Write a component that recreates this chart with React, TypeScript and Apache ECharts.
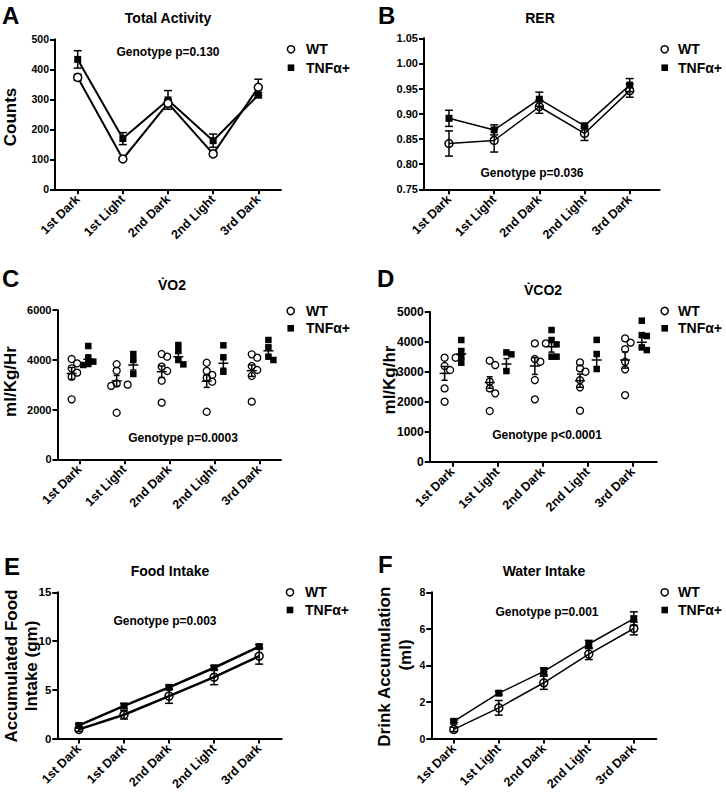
import React, { useEffect, useRef } from "react";
import * as echarts from "echarts";

const FONT = '"Liberation Sans", Arial, Helvetica, sans-serif';

// ---------- categories ----------
const periods = ["1st Dark", "1st Light", "2nd Dark", "2nd Light", "3rd Dark"];
const foodPeriods = ["1st Dark", "1st Dark", "2nd Dark", "2nd Light", "3rd Dark"];

// ---------- A: Total Activity (counts) ----------
const actWT = [373, 101, 287, 118, 340];
const actWTSem = [10, 6, 12, 8, 27];
const actTNF = [433, 169, 298, 162, 314];
const actTNFSem = [29, 20, 31, 22, 8];

// ---------- B: RER ----------
const rerWT = [0.841, 0.847, 0.914, 0.861, 0.946];
const rerWTSem = [0.025, 0.023, 0.013, 0.014, 0.013];
const rerTNF = [0.891, 0.868, 0.929, 0.876, 0.957];
const rerTNFSem = [0.016, 0.01, 0.014, 0.005, 0.013];

// ---------- C: VO2 (individual animals) ----------
const vo2WT = [
  [3856, 3656, 3482, 3321, 4030, 2410],
  [3560, 3820, 3050, 2950, 3000, 1870],
  [4231, 4124, 3549, 3723, 3160, 2277],
  [3550, 3390, 3280, 3120, 3880, 1910],
  [4084, 4218, 3749, 3589, 3348, 2317],
];
const vo2TNF = [
  [4553, 4058, 3924, 3830, 3790],
  [4231, 3990, 3428],
  [4593, 4352, 3990, 3816],
  [4580, 4100, 3520],
  [4794, 4500, 4124, 3990],
];
const vo2WTMean = [3450, 3150, 3520, 3140, 3560];
const vo2WTSem = [240, 220, 230, 250, 230];
const vo2TNFMean = [4020, 3790, 4120, 3860, 4360];
const vo2TNFSem = [180, 200, 180, 200, 180];

// ---------- D: VCO2 (individual animals) ----------
const vco2WT = [
  [3467, 3467, 3189, 3056, 2444, 2000],
  [3222, 3367, 2667, 2444, 2278, 1689],
  [3944, 3944, 3333, 3422, 2722, 2078],
  [3310, 3110, 3000, 2720, 2480, 1700],
  [4110, 3970, 3750, 3330, 3080, 2220],
];
const vco2TNF = [
  [4056, 3689, 3500, 3300],
  [3644, 3578, 3022],
  [4056, 4389, 3911, 3500, 3500],
  [4060, 3590, 3090],
  [4700, 4220, 4190, 3720, 3810],
];
const vco2WTMean = [2944, 2640, 3190, 2700, 3390];
const vco2WTSem = [230, 190, 280, 220, 270];
const vco2TNFMean = [3590, 3256, 3833, 3390, 3980];
const vco2TNFSem = [150, 180, 180, 250, 180];

// ---------- E: Food intake (gm) ----------
const foodWT = [0.94, 2.44, 4.35, 6.29, 8.46];
const foodWTSem = [0.2, 0.44, 0.74, 0.77, 0.83];
const foodTNF = [1.34, 3.34, 5.25, 7.26, 9.43];
const foodTNFSem = [0.15, 0.25, 0.2, 0.2, 0.2];

// ---------- F: Water intake (ml) ----------
const waterWT = [0.5, 1.68, 3.05, 4.62, 6.02];
const waterWTSem = [0.12, 0.4, 0.36, 0.3, 0.35];
const waterTNF = [0.94, 2.48, 3.67, 5.17, 6.56];
const waterTNFSem = [0.08, 0.1, 0.2, 0.2, 0.37];

// ---------- y scales ----------
const yScales = [
  { min: 0, max: 500, interval: 100 },
  { min: 0.75, max: 1.05, interval: 0.05 },
  { min: 0, max: 6000, interval: 2000 },
  { min: 0, max: 5000, interval: 1000 },
  { min: 0, max: 15, interval: 5 },
  { min: 0, max: 8, interval: 2 },
];
const pValues = [
  "Genotype p=0.130",
  "Genotype p=0.036",
  "Genotype p=0.0003",
  "Genotype p<0.0001",
  "Genotype p=0.003",
  "Genotype p=0.001",
];
const titles = ["Total Activity", "RER", "V\u0307O2", "V\u0307CO2", "Food Intake", "Water Intake"];
const letters = ["A", "B", "C", "D", "E", "F"];

// ---------- layout (page pixels) ----------
const layout = [
  { left: 55, top: 39.3, width: 226, height: 150, xMin: -0.503, xMax: 4.503, tick: 10.5 },
  { left: 424, top: 38.3, width: 235.7, height: 151, xMin: -0.553, xMax: 4.664, tick: 11 },
  { left: 57.5, top: 310, width: 223.5, height: 149.3, xMin: -0.484, xMax: 4.48, tick: 11 },
  { left: 429.7, top: 311.7, width: 227, height: 150, xMin: -0.5, xMax: 4.53, tick: 12 },
  { left: 57.3, top: 592.3, width: 224.4, height: 149.4, xMin: -0.48, xMax: 4.5, tick: 11.5 },
  { left: 431.3, top: 592.3, width: 225, height: 149.7, xMin: -0.5, xMax: 4.5, tick: 10.5 },
];
const letterPos = [
  [2, 15], [378, 15], [2, 278], [377, 278.5], [4, 566], [378, 564],
];
const titlePos = [
  [168, 18], [540, 18], [172, 285], [543, 290], [170, 571], [544, 571],
];
const pPos = [
  [168, 52], [532, 173], [183, 438], [547, 435], [165, 621], [547, 612],
];
const legendPos = [
  { cx: 291, cy1: 49.3, cy2: 67.7, tx: 306 },
  { cx: 664.7, cy1: 49.3, cy2: 67.7, tx: 678 },
  { cx: 290.7, cy1: 311, cy2: 328.3, tx: 306 },
  { cx: 664.7, cy1: 311, cy2: 328.3, tx: 678 },
  { cx: 290, cy1: 592.3, cy2: 610, tx: 305 },
  { cx: 664.7, cy1: 592.3, cy2: 610, tx: 678 },
];
const yNames = [
  { text: "Counts", x: 10, y: 117 },
  { text: "ml/Kg/Hr", x: 10, y: 381.5 },
  { text: "ml/Kg/hr", x: 389, y: 380 },
  { text: "Accumulated Food", x: 11.7, y: 666 },
  { text: "Intake (gm)", x: 31.7, y: 666 },
  { text: "Drink Accumulation", x: 384.7, y: 666.7 },
  { text: "(ml)", x: 405.5, y: 655 },
];

const errRender = (cap: number, lw: number) => (_p: any, api: any) => {
  const x = api.value(0);
  const y = api.value(1);
  const e = api.value(2);
  const t = api.coord([x, y + e]);
  const b = api.coord([x, y - e]);
  const st = { stroke: "#000", lineWidth: lw };
  return {
    type: "group",
    children: [
      { type: "line", shape: { x1: t[0], y1: t[1], x2: b[0], y2: b[1] }, style: st },
      { type: "line", shape: { x1: t[0] - cap, y1: t[1], x2: t[0] + cap, y2: t[1] }, style: st },
      { type: "line", shape: { x1: b[0] - cap, y1: b[1], x2: b[0] + cap, y2: b[1] }, style: st },
    ],
  };
};

const meanRender = (half: number, cap: number, lw: number) => (_p: any, api: any) => {
  const x = api.value(0);
  const y = api.value(1);
  const e = api.value(2);
  const m = api.coord([x, y]);
  const t = api.coord([x, y + e]);
  const b = api.coord([x, y - e]);
  const st = { stroke: "#000", lineWidth: lw };
  return {
    type: "group",
    children: [
      { type: "line", shape: { x1: m[0] - half, y1: m[1], x2: m[0] + half, y2: m[1] }, style: st },
      { type: "line", shape: { x1: t[0], y1: t[1], x2: b[0], y2: b[1] }, style: st },
      { type: "line", shape: { x1: t[0] - cap, y1: t[1], x2: t[0] + cap, y2: t[1] }, style: st },
      { type: "line", shape: { x1: b[0] - cap, y1: b[1], x2: b[0] + cap, y2: b[1] }, style: st },
    ],
  };
};

// simple beeswarm: spread points of one group horizontally when they collide (pixel space)
function swarm(groups: number[][], center: number, pxX: number, pxY: number, step: number, minD: number) {
  const out: number[][] = [];
  groups.forEach((vals, k) => {
    const placed: { x: number; y: number }[] = [];
    const sorted = [...vals].sort((a, b) => b - a);
    sorted.forEach((v) => {
      const py = v * pxY;
      let off = 0;
      for (const s of [0, 1, -1, 2, -2, 3, -3]) {
        const px = s * step;
        if (placed.every((p) => Math.hypot(p.x - px, p.y - py) >= minD)) {
          off = px;
          break;
        }
      }
      placed.push({ x: off, y: py });
      out.push([k + center + off / pxX, v]);
    });
  });
  return out;
}

function buildOption() {
  const grid: any[] = [];
  const xAxis: any[] = [];
  const yAxis: any[] = [];
  const series: any[] = [];
  const graphic: any[] = [];

  layout.forEach((L, i) => {
    grid.push({ left: L.left, top: L.top, width: L.width, height: L.height });
    const labels = i === 4 ? foodPeriods : periods;
    xAxis.push({
      type: "value",
      gridIndex: i,
      min: L.xMin,
      max: L.xMax,
      axisLine: { show: true, onZero: false, lineStyle: { color: "#000", width: 2 } },
      axisTick: {
        show: true,
        length: 5,
        customValues: [0, 1, 2, 3, 4],
        lineStyle: { color: "#000", width: 2 },
      },
      axisLabel: {
        customValues: [0, 1, 2, 3, 4],
        formatter: (v: number) => labels[Math.round(v)],
        rotate: 45,
        margin: 8,
        color: "#000",
        fontWeight: "bold",
        fontSize: 12.5,
        fontFamily: FONT,
      },
      splitLine: { show: false },
    });
    const ys = yScales[i];
    yAxis.push({
      type: "value",
      gridIndex: i,
      min: ys.min,
      max: ys.max,
      interval: ys.interval,
      axisLine: { show: true, onZero: false, lineStyle: { color: "#000", width: 2 } },
      axisTick: { show: true, length: 5, lineStyle: { color: "#000", width: 2 } },
      axisLabel: {
        margin: 6,
        color: "#000",
        fontWeight: "bold",
        fontSize: L.tick,
        fontFamily: FONT,
        formatter: i === 1 ? (v: number) => v.toFixed(2) : (v: number) => String(Math.round(v)),
      },
      splitLine: { show: false },
    });
  });

  // line panels
  const linePanels = [
    { i: 0, wt: actWT, wtS: actWTSem, tnf: actTNF, tnfS: actTNFSem, lw: 2, fill: "#fff" },
    { i: 1, wt: rerWT, wtS: rerWTSem, tnf: rerTNF, tnfS: rerTNFSem, lw: 1.5, fill: "none" },
    { i: 4, wt: foodWT, wtS: foodWTSem, tnf: foodTNF, tnfS: foodTNFSem, lw: 2.5, fill: "none" },
    { i: 5, wt: waterWT, wtS: waterWTSem, tnf: waterTNF, tnfS: waterTNFSem, lw: 1.5, fill: "none" },
  ];
  linePanels.forEach((P) => {
    const ax = { xAxisIndex: P.i, yAxisIndex: P.i };
    series.push({
      type: "custom", ...ax, z: 1, renderItem: errRender(4, 1.5),
      encode: { x: 0, y: 1 },
      data: P.tnf.map((v, k) => [k, v, P.tnfS[k]]),
    });
    series.push({
      type: "custom", ...ax, z: 1, renderItem: errRender(4, 1.5),
      encode: { x: 0, y: 1 },
      data: P.wt.map((v, k) => [k, v, P.wtS[k]]),
    });
    series.push({
      type: "line", ...ax, z: 2, name: "TNF",
      data: P.tnf.map((v, k) => [k, v]),
      symbol: "rect", symbolSize: 7,
      lineStyle: { color: "#000", width: P.lw },
      itemStyle: { color: "#000" },
    });
    series.push({
      type: "line", ...ax, z: 3, name: "WT",
      data: P.wt.map((v, k) => [k, v]),
      symbol: "circle", symbolSize: 8,
      lineStyle: { color: "#000", width: P.lw },
      itemStyle: { color: P.fill, borderColor: "#000", borderWidth: 1.5 },
    });
  });

  // scatter panels
  const scatterPanels = [
    { i: 2, wt: vo2WT, tnf: vo2TNF, wm: vo2WTMean, ws: vo2WTSem, tm: vo2TNFMean, tsd: vo2TNFSem },
    { i: 3, wt: vco2WT, tnf: vco2TNF, wm: vco2WTMean, ws: vco2WTSem, tm: vco2TNFMean, tsd: vco2TNFSem },
  ];
  const wtC = -0.17;
  const tnfC = 0.2;
  scatterPanels.forEach((P) => {
    const L = layout[P.i];
    const ys = yScales[P.i];
    const pxX = L.width / (L.xMax - L.xMin);
    const pxY = L.height / (ys.max - ys.min);
    const ax = { xAxisIndex: P.i, yAxisIndex: P.i };
    series.push({
      type: "scatter", ...ax, z: 2,
      data: swarm(P.wt, wtC, pxX, pxY, 5.5, 6),
      symbol: "circle", symbolSize: 7,
      itemStyle: { color: "none", borderColor: "#000", borderWidth: 1.3, opacity: 1 },
    });
    series.push({
      type: "scatter", ...ax, z: 2,
      data: swarm(P.tnf, tnfC, pxX, pxY, 5, 5),
      symbol: "rect", symbolSize: 6.5,
      itemStyle: { color: "#000", opacity: 1 },
    });
    series.push({
      type: "custom", ...ax, z: 3, renderItem: meanRender(5, 3, 1.5),
      encode: { x: 0, y: 1 },
      data: P.wm.map((v, k) => [k + wtC, v, P.ws[k]]),
    });
    series.push({
      type: "custom", ...ax, z: 3, renderItem: meanRender(5, 3, 1.5),
      encode: { x: 0, y: 1 },
      data: P.tm.map((v, k) => [k + tnfC, v, P.tsd[k]]),
    });
  });

  // texts
  const txt = (text: string, x: number, y: number, size: number, align = "center", rot = 0) => ({
    type: "text",
    x, y, rotation: rot,
    silent: true,
    style: {
      text, x: 0, y: 0,
      fill: "#000",
      font: `bold ${size}px ${FONT}`,
      align, verticalAlign: "middle",
      textAlign: align, textVerticalAlign: "middle",
    },
  });
  letters.forEach((l, i) => graphic.push(txt(l, letterPos[i][0], letterPos[i][1], 24, "left")));
  titles.forEach((t, i) => graphic.push(txt(t, titlePos[i][0], titlePos[i][1], 14)));
  pValues.forEach((t, i) => graphic.push(txt(t, pPos[i][0], pPos[i][1], 12)));
  yNames.forEach((n) => graphic.push(txt(n.text, n.x, n.y, 17, "center", Math.PI / 2)));
  legendPos.forEach((lp) => {
    graphic.push({
      type: "circle", silent: true,
      shape: { cx: lp.cx, cy: lp.cy1, r: 3.6 },
      style: { fill: "#fff", stroke: "#000", lineWidth: 1.5 },
    });
    graphic.push({
      type: "rect", silent: true,
      shape: { x: lp.cx - 3.3, y: lp.cy2 - 3.3, width: 6.6, height: 6.6 },
      style: { fill: "#000" },
    });
    graphic.push(txt("WT", lp.tx, lp.cy1, 14, "left"));
    graphic.push(txt("TNF\u03b1+", lp.tx, lp.cy2, 14, "left"));
  });

  return {
    animation: false,
    backgroundColor: "#fff",
    textStyle: { fontFamily: FONT },
    grid,
    xAxis,
    yAxis,
    series,
    graphic,
  };
}

export default function App() {
  const ref = useRef<HTMLDivElement>(null);
  useEffect(() => {
    document.body.style.margin = "0";
    if (!ref.current) return;
    const chart = echarts.init(ref.current, undefined, { renderer: "svg" });
    chart.setOption(buildOption() as any);
    return () => chart.dispose();
  }, []);
  return <div ref={ref} style={{ width: 726, height: 793 }} />;
}
